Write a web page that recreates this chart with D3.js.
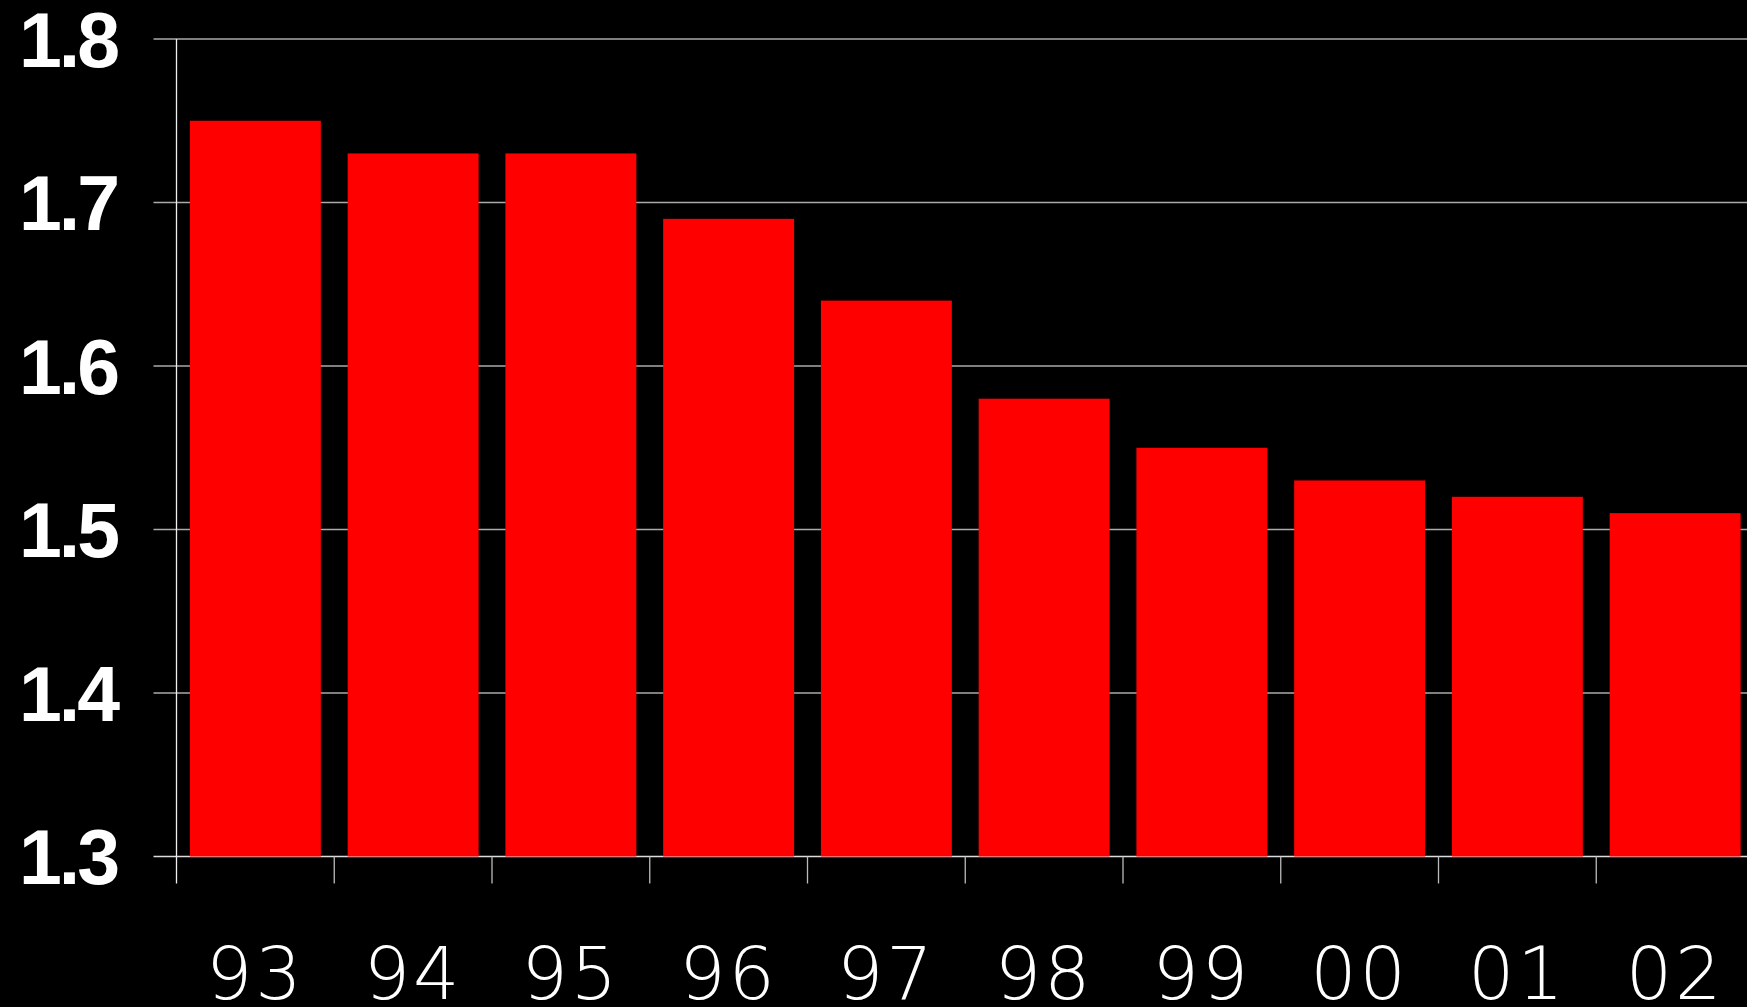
<!DOCTYPE html>
<html>
<head>
    <meta charset="UTF-8" />
    <style>
        html, body { margin: 0; padding: 0; background: #000; }
        svg { display: block; }
    </style>
</head>
<body>
    <div id="chart"></div>
    <script src="https://d3js.org/d3.v7.min.js"></script>
    <script>
        // donnees
        const years = ["93", "94", "95", "96", "97", "98", "99", "00", "01", "02"];
        const values = [1.75, 1.73, 1.73, 1.69, 1.64, 1.58, 1.55, 1.53, 1.52, 1.51];
        const yTicks = [1.3, 1.4, 1.5, 1.6, 1.7, 1.8];

        let width = 1747,
            height = 1007;
        let margin = { left: 176.5, top: 39, bottom: 150.5 };

        let svg = d3.select("#chart")
            .append("svg")
            .attr("width", width)
            .attr("height", height)
            .style("background", "#000");

        let y = d3.scaleLinear()
            .domain([1.3, 1.8])
            .range([height - margin.bottom, margin.top]);

        let x = d3.scaleBand()
            .domain(years)
            .range([margin.left, 1754])
            .paddingInner(0.17)
            .paddingOuter(0.085);

        let step = x.step();
        let half = x.paddingInner() * step / 2;

        // lignes horizontales (grille)
        svg.append("g")
            .selectAll("line")
            .data(yTicks)
            .join("line")
            .attr("x1", margin.left - 23)
            .attr("x2", width)
            .attr("y1", d => y(d))
            .attr("y2", d => y(d))
            .attr("stroke", d => d === 1.3 ? "#ddd" : "#aaa")
            .attr("stroke-width", 1.3);

        // barres
        svg.append("g")
            .selectAll("rect")
            .data(years)
            .join("rect")
            .attr("x", d => x(d))
            .attr("width", x.bandwidth())
            .attr("y", (d, i) => y(values[i]))
            .attr("height", (d, i) => y(1.3) - y(values[i]))
            .attr("fill", "#ff0000");

        // axe vertical
        svg.append("line")
            .attr("x1", margin.left).attr("x2", margin.left)
            .attr("y1", y(1.8)).attr("y2", y(1.3) + 27)
            .attr("stroke", "#eee")
            .attr("stroke-width", 1.3);

        // petites graduations sous l'axe x
        svg.append("g")
            .selectAll("line")
            .data(years.slice(1))
            .join("line")
            .attr("x1", d => x(d) - half)
            .attr("x2", d => x(d) - half)
            .attr("y1", y(1.3))
            .attr("y2", y(1.3) + 27)
            .attr("stroke", "#bbb")
            .attr("stroke-width", 1.3);

        // labels axe y
        svg.append("g")
            .selectAll("text")
            .data(yTicks)
            .join("text")
            .attr("x", 117)
            .attr("y", d => y(d))
            .attr("dy", "0.36em")
            .attr("text-anchor", "end")
            .attr("fill", "#fff")
            .style("font-family", "'Liberation Sans', Arial, sans-serif")
            .style("font-weight", "bold")
            .style("font-size", "77px")
            .style("letter-spacing", "-3px")
            .text(d => d.toFixed(1));

        // labels axe x
        svg.append("g")
            .selectAll("text")
            .data(years)
            .join("text")
            .attr("x", d => x(d) + x.bandwidth() / 2)
            .attr("y", 999)
            .attr("text-anchor", "middle")
            .attr("fill", "#fff")
            .style("font-family", "'DejaVu Sans', Lato, sans-serif")
            .style("font-weight", "200")
            .style("font-size", "73px")
            .style("letter-spacing", "3px")
            .text(d => d);
    </script>
</body>
</html>
